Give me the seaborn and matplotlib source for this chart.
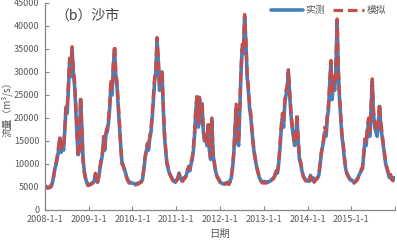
import matplotlib
matplotlib.use("Agg")
import matplotlib.pyplot as plt
import pandas as pd
import seaborn as sns

years = [2008, 2009, 2010, 2011, 2012, 2013, 2014, 2015]
days = [5, 15, 25]

# observed flow, three readings per month (m3/s)
obs_2008 = [5200, 5000, 4900, 4800, 4900, 5200, 6000, 7500, 9000, 10000, 11500, 13000,
            15500, 12500, 14000, 13000, 17000, 22000, 21000, 26000, 32000, 29000, 35000, 30000,
            27000, 22000, 16000, 12000, 13000, 24000, 18000, 11000, 8500, 7000, 6000, 5500]
obs_2009 = [5500, 5600, 5800, 6000, 6200, 7500, 6500, 6000, 7000, 9000, 10500, 12000,
            15000, 13000, 16500, 17000, 19000, 22000, 27000, 25000, 31000, 35000, 29000, 27000,
            22000, 18000, 14000, 10500, 9500, 9000, 8000, 7000, 6500, 6000, 6000, 5800]
obs_2010 = [5800, 5700, 5600, 5700, 5800, 5900, 6000, 6200, 6500, 8500, 11000, 12500,
            14000, 13000, 15500, 17000, 20000, 24000, 28000, 30000, 37000, 32000, 26000, 28000,
            30000, 22000, 16000, 13000, 10000, 9000, 8000, 7500, 7000, 6500, 6200, 6000]
obs_2011 = [6500, 7000, 8000, 7000, 6500, 6500, 7000, 7000, 7500, 8500, 9000, 8500,
            10000, 11000, 13000, 17000, 22000, 24500, 18000, 24000, 19000, 23000, 17000, 15000,
            16000, 14000, 18500, 13000, 11000, 19500, 12000, 10000, 8500, 7500, 7000, 6500]
obs_2012 = [6000, 5800, 5700, 5600, 5800, 5900, 6000, 5700, 6200, 7000, 9000, 12000,
            17000, 22000, 15000, 14000, 22000, 30000, 35000, 34000, 42000, 36000, 29000, 26000,
            22000, 20000, 17000, 14000, 12000, 10500, 9000, 8000, 7000, 6500, 6200, 6000]
obs_2013 = [6200, 6000, 6100, 6000, 6200, 6300, 6500, 6800, 7000, 7500, 8500, 8000,
            10000, 13000, 17000, 20000, 18000, 23000, 25000, 26000, 30000, 25000, 21000, 18000,
            16000, 14000, 15000, 20000, 15000, 11000, 10000, 8500, 7500, 7000, 6500, 6300]
obs_2014 = [6500, 6200, 7500, 6500, 7000, 6200, 6500, 6800, 7000, 7500, 9500, 12000,
            13500, 15000, 17000, 16000, 20000, 22000, 27000, 32000, 24000, 28000, 26000, 30000,
            41000, 30000, 24000, 20000, 16000, 14000, 11000, 9000, 8000, 7500, 7000, 6500]
obs_2015 = [6500, 6200, 6000, 6300, 6500, 7000, 7500, 8000, 8500, 9000, 12000, 15000,
            14000, 17000, 19000, 16000, 22000, 28000, 21000, 18000, 17000, 16000, 19000, 22500,
            18000, 16000, 14000, 12000, 10000, 9000, 8000, 7000, 7500, 6800, 6500, 7000]

# simulated flow
sim_2008 = [5000, 4800, 4700, 4900, 5100, 5500, 6300, 7200, 9400, 10500, 12000, 14000,
            16000, 13000, 14500, 13500, 18000, 23000, 22500, 27500, 33000, 30000, 35500, 31000,
            28000, 23000, 17000, 11500, 13500, 24500, 17000, 10500, 8000, 6800, 5800, 5300]
sim_2009 = [5300, 5500, 5600, 5800, 6400, 8000, 6300, 5800, 7300, 9500, 11000, 12500,
            16000, 13500, 17000, 18000, 20000, 23000, 28500, 26000, 32000, 35800, 30000, 28000,
            23000, 19000, 13500, 10000, 9800, 8600, 7800, 6800, 6200, 5800, 5700, 5600]
sim_2010 = [5600, 5500, 5400, 5500, 5600, 5700, 5900, 6000, 6800, 9000, 11500, 13000,
            14500, 13500, 16000, 18000, 21000, 25000, 29000, 31000, 37500, 33000, 27000, 29000,
            30500, 23000, 17000, 13500, 10500, 9500, 8200, 7200, 6800, 6300, 6000, 5800]
sim_2011 = [6300, 6800, 7800, 6800, 6300, 6200, 6800, 6800, 7300, 8800, 9500, 9000,
            10500, 11500, 14000, 18000, 23000, 25000, 19000, 24500, 20000, 23500, 18000, 15500,
            16500, 14500, 19000, 13500, 11500, 20000, 12500, 10500, 8800, 7300, 6800, 6300]
sim_2012 = [5800, 5600, 5500, 5400, 5600, 5700, 5800, 5500, 6000, 7300, 9500, 12500,
            18000, 23000, 15500, 14500, 23000, 31000, 36000, 35000, 42500, 37000, 30000, 27000,
            23000, 21000, 17500, 14500, 12500, 10800, 9300, 8200, 6800, 6300, 6000, 5800]
sim_2013 = [6000, 5800, 5900, 5800, 6000, 6100, 6300, 6600, 6800, 7800, 9000, 8300,
            10500, 14000, 18000, 21000, 19000, 24000, 26000, 27000, 30500, 26000, 22000, 19000,
            16500, 14500, 15500, 21000, 15500, 11500, 10500, 8800, 7300, 6800, 6300, 6100]
sim_2014 = [6300, 6000, 7300, 6300, 6800, 6000, 6300, 6600, 6800, 7800, 10000, 12500,
            14000, 15500, 18000, 17000, 21000, 23000, 28000, 32500, 25000, 29000, 27000, 31000,
            41500, 31000, 25000, 21000, 16500, 14500, 11500, 9300, 7800, 7300, 6800, 6300]
sim_2015 = [6300, 6000, 5800, 6100, 6300, 6800, 7300, 7800, 8800, 9500, 12500, 15500,
            14500, 18000, 20000, 17000, 23000, 28500, 22000, 19000, 18000, 17000, 20000, 23000,
            19000, 17000, 14500, 12500, 10500, 9300, 8300, 7200, 7700, 6600, 6300, 7200]

obs = obs_2008 + obs_2009 + obs_2010 + obs_2011 + obs_2012 + obs_2013 + obs_2014 + obs_2015
sim = sim_2008 + sim_2009 + sim_2010 + sim_2011 + sim_2012 + sim_2013 + sim_2014 + sim_2015
dates = [pd.Timestamp(y, m, d) for y in years for m in range(1, 13) for d in days]

df = pd.DataFrame({"date": dates, "实测": obs, "模拟": sim})

sns.set_theme(style="ticks")
plt.rcParams["font.family"] = ["Noto Sans CJK SC", "DejaVu Sans"]

fig = plt.figure(figsize=(3.97, 2.41), dpi=100)
ax = fig.add_axes([0.113, 0.129, 0.882, 0.859])

sns.lineplot(data=df, x="date", y="实测", ax=ax, color="#4a7ebb", linewidth=2.6, label="实测")
sns.lineplot(data=df, x="date", y="模拟", ax=ax, color="#c0504d", linewidth=2.3,
             dashes=False, label="模拟")
ax.lines[1].set_linestyle((0, (3, 1.5)))

ax.set_xlim(pd.Timestamp(2008, 1, 1), pd.Timestamp(2016, 1, 1))
ax.set_ylim(0, 45000)
ax.set_yticks(range(0, 45001, 5000))
ticks = [pd.Timestamp(y, 1, 1) for y in years + [2016]]
ax.set_xticks(ticks)
ax.set_xticklabels([f"{y}-1-1" for y in years] + [""])

gray = "#595959"
ax.tick_params(axis="both", direction="in", length=3, width=0.8, colors="#868686",
               labelcolor=gray, labelsize=6.5, pad=4)
for s in ["left", "bottom"]:
    ax.spines[s].set_color("#868686")
    ax.spines[s].set_linewidth(0.9)
sns.despine(ax=ax)

ax.set_xlabel("日期", color=gray, fontsize=7.5, labelpad=3)
ax.set_ylabel("流量（m³/s）", color=gray, fontsize=7, labelpad=1)
ax.text(0.03, 0.94, "（b）沙市", transform=ax.transAxes, fontsize=10, color="#404040",
        va="center", ha="left")

leg = ax.legend(loc="upper right", bbox_to_anchor=(1.0, 1.03), ncol=2, frameon=False,
                fontsize=7, handlelength=3.2, columnspacing=0.8, handletextpad=0.3)
for t in leg.get_texts():
    t.set_color(gray)

fig.savefig("out.png", dpi=100)
